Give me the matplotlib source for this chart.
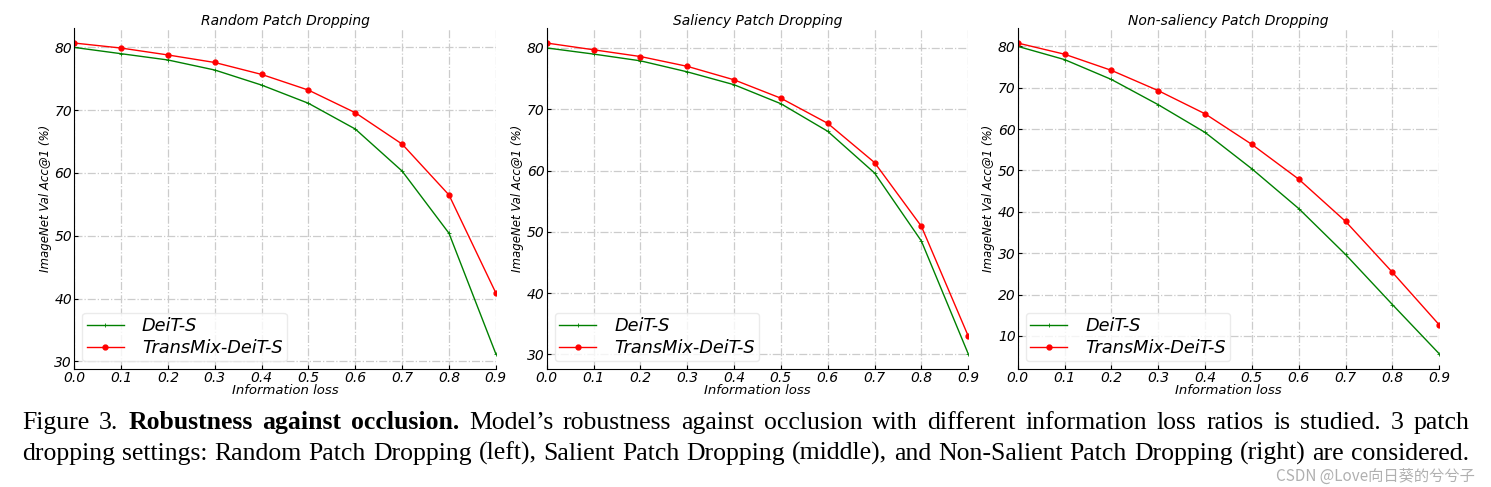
import numpy as np
import matplotlib.pyplot as plt

loss = [0.0, 0.1, 0.2, 0.3, 0.4, 0.5, 0.6, 0.7, 0.8, 0.9]

titles = ["Random Patch Dropping", "Saliency Patch Dropping", "Non-saliency Patch Dropping"]

# DeiT-S
deit_random = [80.0, 79.0, 78.0, 76.4, 74.0, 71.1, 67.0, 60.3, 50.4, 31.2]
deit_saliency = [80.0, 79.0, 77.9, 76.1, 74.0, 70.9, 66.4, 59.6, 48.5, 30.1]
deit_nonsal = [80.0, 76.8, 72.0, 65.9, 59.2, 50.4, 40.8, 29.7, 17.6, 5.7]

# TransMix-DeiT-S
tm_random = [80.7, 79.9, 78.8, 77.6, 75.7, 73.2, 69.6, 64.6, 56.5, 40.9]
tm_saliency = [80.8, 79.7, 78.6, 77.0, 74.8, 71.8, 67.7, 61.3, 50.9, 33.0]
tm_nonsal = [80.8, 78.1, 74.2, 69.3, 63.7, 56.3, 47.9, 37.7, 25.4, 12.7]

deit_all = [deit_random, deit_saliency, deit_nonsal]
tm_all = [tm_random, tm_saliency, tm_nonsal]

caption_1 = [("Figure 3.", "normal"), ("Robustness against occlusion.", "bold"),
             ("Model\u2019s robustness against occlusion with different information loss ratios is studied. 3 patch", "normal")]
caption_2 = [("dropping settings: Random Patch Dropping (left), Salient Patch Dropping (middle), and Non-Salient Patch Dropping (right) are considered.", "normal")]

W, H = 1491, 487
fig = plt.figure(figsize=(W / 100, H / 100), dpi=100)

lefts = [74.3, 546.7, 1017.7]
ax_w = 421.5
ax_top, ax_bot = 27.5, 369.3

for i in range(3):
    ax = fig.add_axes([lefts[i] / W, 1 - ax_bot / H, ax_w / W, (ax_bot - ax_top) / H])
    ax.plot(loss, deit_all[i], color="green", lw=1.0, marker="+", ms=3, mew=0.6, label="DeiT-S")
    ax.plot(loss, tm_all[i], color="red", lw=1.0, marker="o", ms=3.5, label="TransMix-DeiT-S")
    ax.set_xlim(0, 0.9)
    ax.set_xticks(loss)
    ax.set_xticklabels([f"{v:.1f}" for v in loss], fontsize=10, style="italic")
    for lab in ax.get_yticklabels():
        lab.set_fontsize(10)
        lab.set_style("italic")
    ax.grid(True, color="#cccccc", ls="-.", lw=0.9)
    ax.spines["top"].set_visible(False)
    ax.spines["right"].set_visible(False)
    ax.tick_params(direction="in", length=3, pad=1.5)
    ax.set_title(titles[i], fontsize=10, style="italic", pad=1.5)
    ax.set_xlabel("Information loss", fontsize=9.5, style="italic", labelpad=-1)
    ax.set_ylabel("ImageNet Val Acc@1 (%)", fontsize=8.5, style="italic", labelpad=2)
    leg = ax.legend(loc="lower left", prop={"style": "italic", "size": 12.8},
                    handlelength=2.1, handletextpad=1.0, labelspacing=0.22,
                    frameon=True, fancybox=True, borderpad=0.25, borderaxespad=0.45)
    leg.get_frame().set_edgecolor("#e6e6e6")

# caption, justified word by word
cap_size = 18.5
x_start, x_end = 22, 1469
renderer = fig.canvas.get_renderer()
for segs, yb in [(caption_1, 429), (caption_2, 460)]:
    words = []
    for txt, wt in segs:
        for w in txt.split(" "):
            words.append(fig.text(0, 1 - yb / H, w, family="Liberation Serif",
                                  fontsize=cap_size, weight=wt, va="baseline"))
    widths = [w.get_window_extent(renderer).width for w in words]
    gap = (x_end - x_start - sum(widths)) / (len(words) - 1)
    x = x_start
    for w, wd in zip(words, widths):
        w.set_x(x / W)
        x += wd + gap

fig.text(1475 / W, 1 - 476 / H, "CSDN @Love\u5411\u65e5\u8475\u7684\u516e\u516e\u5b50",
         family=["Noto Sans CJK SC", "DejaVu Sans"], fontsize=11, color="#b0b0b0",
         ha="right", va="center")

fig.savefig("out.png", dpi=100)
